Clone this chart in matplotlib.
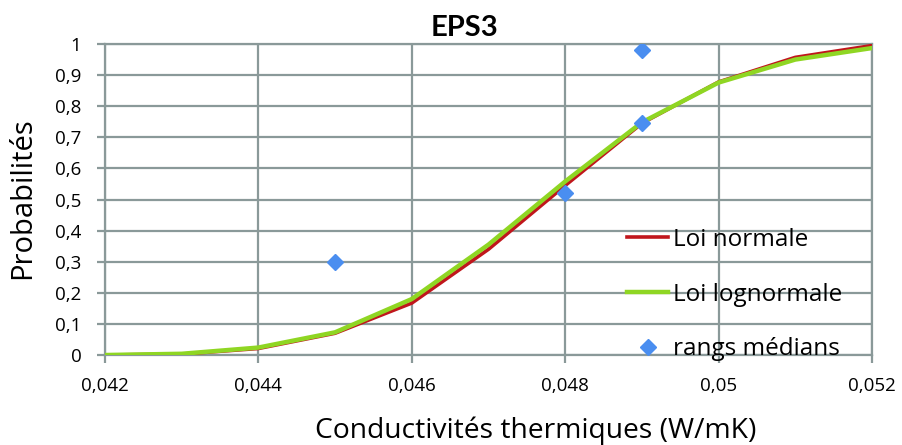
import numpy as np
import matplotlib.pyplot as plt
from matplotlib.ticker import FuncFormatter

plt.rcParams['font.family'] = ['Open Sans', 'DejaVu Sans']

# data
conductivite = [0.042, 0.043, 0.044, 0.045, 0.046, 0.047, 0.048, 0.049, 0.050, 0.051, 0.052]
loi_normale = [0.0, 0.003, 0.021, 0.07, 0.167, 0.34, 0.545, 0.745, 0.878, 0.957, 0.995]
loi_lognormale = [0.0, 0.004, 0.024, 0.073, 0.18, 0.355, 0.558, 0.748, 0.876, 0.95, 0.987]

rangs_x = [0.045, 0.048, 0.049, 0.049]
rangs_y = [0.30, 0.52, 0.745, 0.98]

grid_col = '#8a9999'

fig = plt.figure(figsize=(9.02, 4.45), dpi=100)
ax = fig.add_axes([0.1164, 0.2022, 0.8503, 0.6989])

ax.plot(conductivite, loi_normale, color='#c0161c', lw=2.6, label='Loi normale', zorder=3)
ax.plot(conductivite, loi_lognormale, color='#8fd623', lw=3.2, label='Loi lognormale', zorder=4)
ax.plot(rangs_x, rangs_y, ls='none', marker='D', ms=8, color='#4a8ef0',
        label='rangs médians', zorder=5)

ax.set_xlim(0.042, 0.052)
ax.set_ylim(0, 1)
ax.set_xticks(np.arange(0.042, 0.0521, 0.002))
ax.set_yticks(np.arange(0, 1.01, 0.1))


def virgule(v, pos):
    s = f'{v:.3f}'.rstrip('0').rstrip('.')
    return s.replace('.', ',')


ax.xaxis.set_major_formatter(FuncFormatter(virgule))
ax.yaxis.set_major_formatter(FuncFormatter(lambda v, p: f'{v:.1f}'.rstrip('0').rstrip('.').replace('.', ',')))

ax.grid(True, color=grid_col, lw=1.6)
for s in ax.spines.values():
    s.set_color(grid_col)
    s.set_linewidth(1.6)
ax.tick_params(axis='both', colors=grid_col, length=6, width=1.6, labelsize=13.5, labelcolor='black')
ax.tick_params(axis='x', pad=9.5)
ax.tick_params(axis='y', pad=11)

ax.set_title('EPS3', fontsize=21, fontweight='bold', family=['Lato', 'DejaVu Sans'],
             x=0.469, pad=6)
ax.set_xlabel('Conductivités thermiques (W/mK)', fontsize=20.3, va='center')
ax.xaxis.set_label_coords(0.561, -0.243)
ax.set_ylabel('Probabilités', fontsize=21, va='center')
ax.yaxis.set_label_coords(-0.108, 0.505)

leg = ax.legend(loc='upper left', bbox_to_anchor=(627 / 902, 1 - 228 / 445),
                bbox_transform=fig.transFigure, frameon=False, fontsize=17.5,
                labelspacing=1.26, handlelength=1.7, handletextpad=0.2,
                borderpad=0, borderaxespad=0)

fig.savefig('out.png', dpi=100)
